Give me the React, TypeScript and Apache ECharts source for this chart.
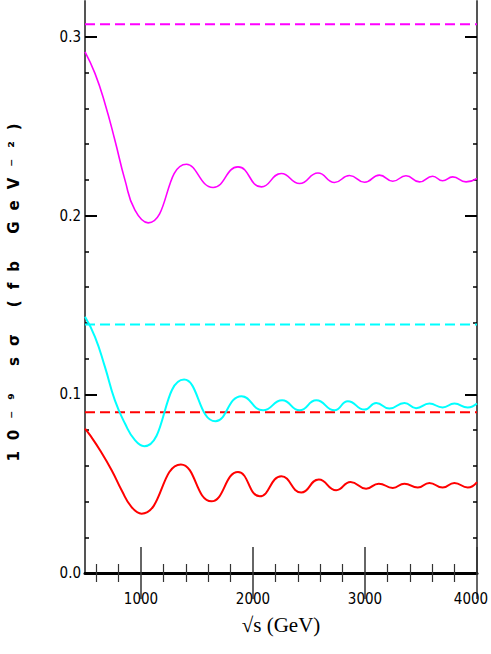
import React, { useEffect, useRef } from "react";
import * as echarts from "echarts";

// sqrt(s) in GeV and 10^-9 s*sigma values
const magentaX = [500, 589, 678, 767, 857, 946, 1064, 1406, 1644, 1866, 2075, 2253, 2416, 2580, 2728, 2862, 2996, 3129, 3248, 3366, 3486, 3604, 3693, 3783, 3902, 4000];
const magentaY = [0.2916, 0.2795, 0.2627, 0.2421, 0.2198, 0.203, 0.1959, 0.2287, 0.2157, 0.2272, 0.216, 0.2235, 0.2179, 0.2238, 0.2185, 0.2224, 0.2186, 0.2226, 0.2192, 0.2222, 0.2188, 0.222, 0.2194, 0.2216, 0.2188, 0.2207];

const cyanX = [500, 589, 678, 767, 857, 946, 1029, 1385, 1665, 1897, 2090, 2260, 2416, 2565, 2728, 2847, 2996, 3100, 3218, 3352, 3456, 3575, 3693, 3798, 3917, 4000];
const cyanY = [0.1433, 0.1321, 0.1153, 0.0966, 0.0836, 0.0743, 0.0709, 0.1082, 0.0849, 0.0989, 0.091, 0.0966, 0.091, 0.0966, 0.091, 0.0961, 0.0914, 0.0951, 0.092, 0.0951, 0.0922, 0.0948, 0.0926, 0.0948, 0.0926, 0.0948];

const redX = [500, 545, 634, 738, 827, 916, 1005, 1356, 1629, 1866, 2060, 2253, 2431, 2588, 2743, 2871, 3010, 3123, 3248, 3352, 3471, 3575, 3693, 3798, 3917, 4000];
const redY = [0.0808, 0.0771, 0.0687, 0.0575, 0.0463, 0.0369, 0.0332, 0.0607, 0.0401, 0.0565, 0.0429, 0.0541, 0.045, 0.0523, 0.0463, 0.0509, 0.0472, 0.05, 0.0476, 0.05, 0.0478, 0.0504, 0.0478, 0.0504, 0.0478, 0.0509];

// asymptotic (dashed) levels
const dashedLevels = [
  { value: 0.307, color: "#ff00ff" },
  { value: 0.139, color: "#00ffff" },
  { value: 0.09, color: "#ff0000" },
];

const xMajorTicks = [1000, 2000, 3000, 4000];
const xMinorTicks = [600, 800, 1200, 1400, 1600, 1800, 2200, 2400, 2600, 2800, 3200, 3400, 3600, 3800];
const yMajorTicks = [0, 0.1, 0.2, 0.3];
const yMinorTicks = [0.02, 0.04, 0.06, 0.08, 0.12, 0.14, 0.16, 0.18, 0.22, 0.24, 0.26, 0.28];

const X_MIN = 500;
const X_MAX = 4000;
const Y_MIN = 0;
const Y_MAX = 0.32;

const labelFont = {
  fontFamily: "'Liberation Sans Narrow', 'DejaVu Sans Condensed', 'Roboto Condensed', sans-serif",
  fontSize: 15,
  color: "#000",
};

function zip(xs: number[], ys: number[]) {
  return xs.map((x, i) => [x, ys[i]]);
}

export default function App() {
  const ref = useRef<HTMLDivElement>(null);
  useEffect(() => {
    if (!ref.current) return;
    const chart = echarts.init(ref.current, null, { renderer: "svg" });

    const xBase = (pos: "bottom" | "top") => ({
      type: "value",
      min: X_MIN,
      max: X_MAX,
      position: pos,
      splitLine: { show: false },
    });
    const yBase = (pos: "left" | "right") => ({
      type: "value",
      min: Y_MIN,
      max: Y_MAX,
      position: pos,
      splitLine: { show: false },
    });

    const curve = (xs: number[], ys: number[], color: string, width: number) => ({
      type: "line",
      data: zip(xs, ys),
      showSymbol: false,
      symbol: "none",
      smooth: 0.5,
      lineStyle: { color, width },
      xAxisIndex: 0,
      yAxisIndex: 0,
      silent: true,
    });

    chart.setOption({
      animation: false,
      backgroundColor: "#fff",
      grid: { left: 85, right: 14, top: 1, bottom: 81, containLabel: false, outerBoundsMode: "none" },
      xAxis: [
        {
          ...xBase("bottom"),
          name: "√s (GeV)",
          nameLocation: "middle",
          nameGap: 41,
          nameTextStyle: { fontFamily: "'Liberation Serif', serif", fontSize: 21, color: "#000" },
          axisLine: { show: true, lineStyle: { color: "#000", width: 2 } },
          axisTick: { show: true, inside: true, length: 26, customValues: xMajorTicks, lineStyle: { color: "#333", width: 1.5 } },
          axisLabel: {
            show: true,
            customValues: xMajorTicks,
            margin: 18,
            ...labelFont,
            formatter: (v: number) => (v === X_MAX ? `{m|${v}}` : String(v)),
            rich: { m: { ...labelFont, padding: [0, 12, 0, 0] } },
          },
        },
        {
          ...xBase("bottom"),
          axisLine: { show: false },
          axisTick: { show: true, inside: true, length: 9, customValues: xMinorTicks, lineStyle: { color: "#333", width: 1.2 } },
          axisLabel: { show: false },
        },
        {
          ...xBase("top"),
          axisLine: { show: true, lineStyle: { color: "#000", width: 3 } },
          axisTick: { show: true, inside: true, length: 26, customValues: xMajorTicks, lineStyle: { color: "#333", width: 1.5 } },
          axisLabel: { show: false },
        },
        {
          ...xBase("top"),
          axisLine: { show: false },
          axisTick: { show: true, inside: true, length: 9, customValues: xMinorTicks, lineStyle: { color: "#333", width: 1.2 } },
          axisLabel: { show: false },
        },
      ],
      yAxis: [
        {
          ...yBase("left"),
          name: "10⁻⁹ sσ (fb GeV⁻²)",
          nameLocation: "middle",
          nameGap: 64,
          nameRotate: 90,
          nameTextStyle: { fontFamily: "'DejaVu Sans', sans-serif", fontWeight: "bold", fontSize: 15, color: "#000" },
          axisLine: { show: true, lineStyle: { color: "#555", width: 2 } },
          axisTick: { show: true, inside: true, length: 12, customValues: yMajorTicks, lineStyle: { color: "#000", width: 2 } },
          axisLabel: { show: true, customValues: yMajorTicks, margin: 4, ...labelFont, formatter: (v: number) => v.toFixed(1) },
        },
        {
          ...yBase("left"),
          axisLine: { show: false },
          axisTick: { show: true, inside: true, length: 4, customValues: yMinorTicks, lineStyle: { color: "#000", width: 1.5 } },
          axisLabel: { show: false },
        },
        {
          ...yBase("right"),
          axisLine: { show: true, lineStyle: { color: "#555", width: 2 } },
          axisTick: { show: true, inside: true, length: 12, customValues: yMajorTicks, lineStyle: { color: "#000", width: 2 } },
          axisLabel: { show: false },
        },
        {
          ...yBase("right"),
          axisLine: { show: false },
          axisTick: { show: true, inside: true, length: 4, customValues: yMinorTicks, lineStyle: { color: "#000", width: 1.5 } },
          axisLabel: { show: false },
        },
      ],
      series: [
        ...dashedLevels.map((d) => ({
          type: "line",
          data: [
            [X_MIN, d.value],
            [X_MAX, d.value],
          ],
          showSymbol: false,
          symbol: "none",
          lineStyle: { color: d.color, width: 2, type: [10, 5] },
          xAxisIndex: 0,
          yAxisIndex: 0,
          silent: true,
        })),
        curve(magentaX, magentaY, "#ff00ff", 1.6),
        curve(cyanX, cyanY, "#00ffff", 2),
        curve(redX, redY, "#ff0000", 2),
      ],
    });

    // widen the spacing of the y-axis title letters like the original
    const texts = ref.current.querySelectorAll("text");
    texts.forEach((t) => {
      if ((t.textContent || "").includes("sσ")) {
        t.setAttribute("letter-spacing", "11");
      }
    });

    return () => chart.dispose();
  }, []);

  return (
    <div
      ref={ref}
      style={{ position: "fixed", left: 0, top: 0, width: 491, height: 654, background: "#fff" }}
    />
  );
}
